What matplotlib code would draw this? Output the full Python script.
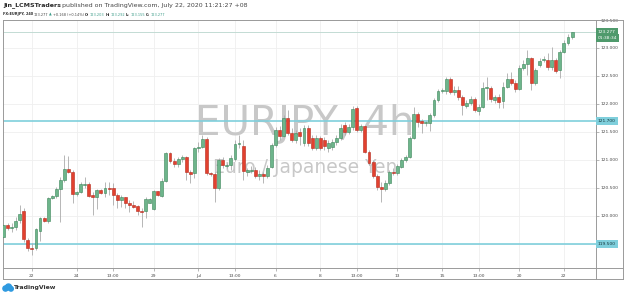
import matplotlib.pyplot as plt
from matplotlib.lines import Line2D
from matplotlib.patches import Ellipse
import numpy as np

# EURJPY 4h candles, 19 Jun - 22 Jul 2020
opens = [119.63, 119.84, 119.79, 119.80, 119.93, 120.09, 119.57, 119.43, 119.43, 119.73,
         119.96, 119.91, 120.32, 120.36, 120.48, 120.64, 120.84, 120.79, 120.39, 120.43,
         120.55, 120.57, 120.38, 120.34, 120.46, 120.41, 120.50, 120.50, 120.38, 120.29,
         120.34, 120.23, 120.20, 120.18, 120.09, 120.09, 120.23, 120.13, 120.45, 120.36,
         120.63, 121.13, 120.98, 120.93, 121.02, 121.05, 120.79, 120.77, 121.21, 121.23,
         121.38, 120.77, 120.75, 120.50, 121.00, 120.89, 120.91, 121.02, 121.29, 121.25,
         120.79, 120.80, 120.82, 120.71, 120.75, 120.71, 120.88, 121.27, 121.54, 121.43,
         121.75, 121.48, 121.36, 121.50, 121.30, 121.57, 121.39, 121.21, 121.39, 121.36,
         121.21, 121.23, 121.32, 121.39, 121.62, 121.50, 121.59, 121.93, 121.54, 121.61,
         121.14, 120.96, 120.71, 120.52, 120.48, 120.59, 120.79, 120.77, 120.88, 121.00,
         121.05, 121.39, 121.82, 121.70, 121.66, 121.66, 121.80, 122.07, 122.23, 122.23,
         122.45, 122.21, 122.25, 122.13, 121.96, 122.02, 122.09, 121.88, 121.95, 122.29,
         122.29, 122.07, 122.13, 122.05, 122.30, 122.45, 122.38, 122.27, 122.64, 122.71,
         122.82, 122.38, 122.70, 122.79, 122.79, 122.66, 122.79, 122.61, 122.93, 123.09,
         123.203]
closes = [119.84, 119.79, 119.80, 119.91, 120.04, 119.59, 119.43, 119.41, 119.77, 119.96,
          119.91, 120.32, 120.36, 120.48, 120.64, 120.84, 120.79, 120.39, 120.43, 120.57,
          120.57, 120.36, 120.34, 120.46, 120.41, 120.50, 120.48, 120.38, 120.29, 120.34,
          120.23, 120.20, 120.16, 120.09, 120.07, 120.30, 120.30, 120.45, 120.38, 120.63,
          121.13, 120.98, 120.93, 121.02, 121.05, 120.79, 120.75, 121.21, 121.23, 121.38,
          120.77, 120.75, 120.50, 121.00, 120.91, 120.91, 121.04, 121.29, 121.30, 120.80,
          120.82, 120.81, 120.71, 120.75, 120.71, 120.86, 121.27, 121.54, 121.43, 121.75,
          121.48, 121.36, 121.48, 121.43, 121.57, 121.30, 121.21, 121.39, 121.21, 121.25,
          121.30, 121.32, 121.39, 121.57, 121.50, 121.59, 121.91, 121.54, 121.61, 121.14,
          120.95, 120.71, 120.52, 120.48, 120.59, 120.79, 120.77, 120.89, 121.00, 121.05,
          121.39, 121.82, 121.68, 121.66, 121.67, 121.80, 122.07, 122.23, 122.24, 122.45,
          122.21, 122.25, 122.13, 121.98, 122.02, 122.09, 121.89, 121.95, 122.29, 122.30,
          122.09, 122.13, 122.04, 122.30, 122.45, 122.38, 122.27, 122.64, 122.71, 122.82,
          122.38, 122.61, 122.77, 122.80, 122.66, 122.79, 122.59, 122.93, 123.09, 123.20,
          123.277]
highs = [119.88, 119.88, 119.88, 119.98, 120.20, 120.14, 119.61, 119.52, 119.79, 119.98,
         119.98, 120.34, 120.38, 120.52, 120.70, 121.09, 121.07, 120.82, 120.45, 120.61,
         120.70, 120.61, 120.43, 120.48, 120.48, 120.61, 120.61, 120.59, 120.41, 120.38,
         120.34, 120.29, 120.27, 120.20, 120.14, 120.34, 120.32, 120.46, 120.45, 120.68,
         121.14, 121.14, 121.04, 121.05, 121.09, 121.07, 120.82, 121.23, 121.32, 121.45,
         121.41, 120.79, 120.79, 121.04, 121.05, 120.95, 121.09, 121.36, 121.45, 121.36,
         120.86, 120.89, 120.88, 120.82, 120.79, 120.91, 121.30, 121.59, 121.61, 121.80,
         121.89, 121.57, 121.54, 121.57, 121.62, 121.62, 121.45, 121.45, 121.43, 121.41,
         121.36, 121.38, 121.45, 121.64, 121.68, 121.64, 121.96, 121.96, 121.64, 121.62,
         121.18, 121.00, 120.75, 120.61, 120.64, 120.82, 120.86, 120.93, 121.04, 121.09,
         121.43, 121.95, 121.86, 121.73, 121.70, 121.84, 122.11, 122.27, 122.29, 122.48,
         122.48, 122.32, 122.32, 122.16, 122.07, 122.14, 122.13, 122.00, 122.39, 122.48,
         122.32, 122.16, 122.18, 122.39, 122.55, 122.57, 122.43, 122.70, 122.79, 122.96,
         122.84, 122.64, 122.82, 122.86, 122.91, 123.02, 122.82, 122.96, 123.14, 123.25,
         123.292]
lows = [119.59, 119.75, 119.71, 119.75, 119.88, 119.54, 119.38, 119.30, 119.39, 119.55,
        119.89, 119.88, 120.30, 120.32, 119.89, 120.61, 120.77, 120.23, 120.36, 120.41,
        120.50, 120.34, 120.02, 120.13, 120.39, 120.34, 120.38, 120.20, 120.14, 120.16,
        120.14, 120.07, 120.14, 120.02, 119.80, 119.96, 120.23, 120.11, 120.36, 120.34,
        120.61, 120.95, 120.88, 120.88, 120.96, 120.64, 120.59, 120.68, 121.14, 121.21,
        120.73, 120.71, 120.25, 120.46, 120.86, 120.86, 120.82, 120.98, 121.21, 120.64,
        120.71, 120.77, 120.68, 120.64, 120.59, 120.68, 120.86, 121.23, 121.36, 121.41,
        121.45, 121.32, 121.30, 121.27, 121.25, 121.25, 121.18, 121.18, 121.18, 121.18,
        121.14, 121.18, 121.27, 121.36, 121.45, 121.46, 121.54, 121.50, 121.50, 121.13,
        120.91, 120.68, 120.46, 120.25, 120.45, 120.55, 120.73, 120.73, 120.86, 120.96,
        121.04, 121.38, 121.59, 121.48, 121.61, 121.52, 121.77, 122.04, 122.20, 122.18,
        122.18, 122.16, 122.07, 121.80, 121.93, 121.98, 121.86, 121.80, 121.93, 122.07,
        122.04, 122.02, 121.93, 121.93, 122.29, 122.34, 122.21, 122.25, 122.61, 122.52,
        122.25, 122.34, 122.66, 122.75, 122.61, 122.61, 122.55, 122.46, 122.91, 123.05,
        123.155]

time_ticks = [7, 18, 27, 37, 48, 57, 67, 78, 87, 97, 108, 117, 127, 138]
time_labels = ['22', '24', '13:00', '29', 'Jul', '13:00', '6', '8', '13:00', '13',
               '15', '13:00', '20', '22']
price_ticks = [119.5, 120.0, 120.5, 121.0, 121.5, 122.0, 122.5, 123.0, 123.5]
levels = [121.700, 119.500]
last_price = 123.277
countdown = '01:38:34'

W, H = 625, 296
green, green_edge = '#6db58b', '#3b8559'
red, red_edge = '#e2412f', '#b42a1d'
wick = '#ababab'
teal = '#7fcfdc'
axis_grey = '#9a9a9a'
txt = '#4a4a4a'

fig = plt.figure(figsize=(W / 100, H / 100), dpi=100)
fig.patch.set_facecolor('white')
ax = fig.add_axes([3 / W, 28 / H, 593 / W, 248 / H])
ax.set_xlim(-0.12, 145.9)
ax.set_ylim(119.071, 123.5)

# grid
for t in time_ticks:
    ax.axvline(t, color='#efefef', lw=0.6, zorder=0)
for p in price_ticks:
    ax.axhline(p, color='#efefef', lw=0.6, zorder=0)

# watermark
ax.text(0.509, 0.536, 'EURJPY, 4h', transform=ax.transAxes, ha='center', va='baseline',
        fontsize=29, color='#c8c8c8', zorder=1)
ax.text(0.509, 0.383, 'Euro / Japanese Yen', transform=ax.transAxes, ha='center',
        va='baseline', fontsize=13.5, color='#c8c8c8', zorder=1)

# horizontal levels
for lv in levels:
    ax.axhline(lv, color=teal, lw=1.2, zorder=1.5)
ax.axhline(last_price, color='#c3dbd4', lw=0.7, zorder=1.5)

# candles
o = np.array(opens)
c = np.array(closes)
idx = np.arange(len(o))
up = c >= o
lo = np.minimum(o, c)
hgt = np.maximum(np.abs(c - o), 0.014)
ax.vlines(idx, lows, highs, color=wick, lw=0.6, zorder=2)
ax.bar(idx[up], hgt[up], bottom=lo[up], width=0.72, color=green, edgecolor=green_edge,
       linewidth=0.4, zorder=3)
ax.bar(idx[~up], hgt[~up], bottom=lo[~up], width=0.72, color=red, edgecolor=red_edge,
       linewidth=0.4, zorder=3)

# axes styling
for s in ax.spines.values():
    s.set_color(axis_grey)
    s.set_linewidth(0.7)
ax.yaxis.tick_right()
ax.set_yticks(price_ticks)
# the 119.500 tick sits under the level label, so the label box carries that text
ax.set_yticklabels(['' if p in levels else '%.3f' % p for p in price_ticks])
ax.set_xticks(time_ticks)
ax.set_xticklabels(time_labels)
ax.tick_params(axis='y', length=2, width=0.5, color=axis_grey, pad=1.5, labelsize=3.2,
               labelcolor=txt)
ax.tick_params(axis='x', length=2, width=0.5, color=axis_grey, pad=2.2, labelsize=3.2,
               labelcolor=txt)

# price labels on the right axis
ytr = ax.get_yaxis_transform()
for lv in levels:
    ax.text(1.003, lv, '%.3f' % lv, transform=ytr, ha='left', va='center', fontsize=3.2,
            color='#16363b', zorder=5,
            bbox=dict(boxstyle='square,pad=0.45', fc=teal, ec='none'))
ax.text(1.003, last_price, '%.3f' % last_price, transform=ytr, ha='left', va='center',
        fontsize=3.2, color='white', zorder=5,
        bbox=dict(boxstyle='square,pad=0.45', fc='#4f9a6c', ec='none'))
ax.text(1.003, last_price - 0.105, countdown, transform=ytr, ha='left', va='center',
        fontsize=3.2, color='white', zorder=5,
        bbox=dict(boxstyle='square,pad=0.45', fc='#4f9a6c', ec='none'))

# outer frame (time strip + price strip)
def fig_line(x0, y0, x1, y1):
    fig.add_artist(Line2D([x0 / W, x1 / W], [1 - y0 / H, 1 - y1 / H], color=axis_grey,
                          lw=0.7))

fig_line(3, 279, 623, 279)
fig_line(623, 20, 623, 279)
fig_line(596, 20, 623, 20)
fig_line(596, 268, 623, 268)
fig_line(3, 268, 3, 279)
fig_line(596, 268, 596, 279)

# header
renderer = fig.canvas.get_renderer()

def write_row(pieces, x_px, y_px, size, gap):
    x = x_px
    for s, col, wt in pieces:
        t = fig.text(x / W, 1 - y_px / H, s, fontsize=size, color=col, fontweight=wt,
                     ha='left', va='center')
        x += t.get_window_extent(renderer).width + gap

write_row([('Jin_LCMSTraders', '#2a2a2a', 'bold'),
           ('published on TradingView.com, July 22, 2020 11:21:27 +08', '#444444', 'normal')],
          3, 5.5, 4.5, 1.6)
tv = '#3d9d8a'
write_row([('FX:EURJPY, 240', '#2a2a2a', 'bold'),
           ('123.277', '#444444', 'normal'), ('\u25b2', tv, 'normal'),
           ('+0.168 (+0.14%)', '#444444', 'normal'),
           ('O:', '#2a2a2a', 'bold'), ('123.203', tv, 'normal'),
           ('H:', '#2a2a2a', 'bold'), ('123.292', tv, 'normal'),
           ('L:', '#2a2a2a', 'bold'), ('123.155', tv, 'normal'),
           ('C:', '#2a2a2a', 'bold'), ('123.277', tv, 'normal')],
          3, 14.5, 2.55, 0.8)

# TradingView logo
for cx, cy, r in [(5.5, 288.5, 2.6), (8.5, 287.0, 3.0), (11.0, 288.8, 2.3)]:
    fig.add_artist(Ellipse((cx / W, 1 - cy / H), 2 * r / W, 2 * r / H, color='#2f9ae0'))
fig.text(14 / W, 1 - 288 / H, 'TradingView', fontsize=4.4, color='#333333',
         fontweight='bold', ha='left', va='center')

fig.savefig('out.png', dpi=100, facecolor='white')
